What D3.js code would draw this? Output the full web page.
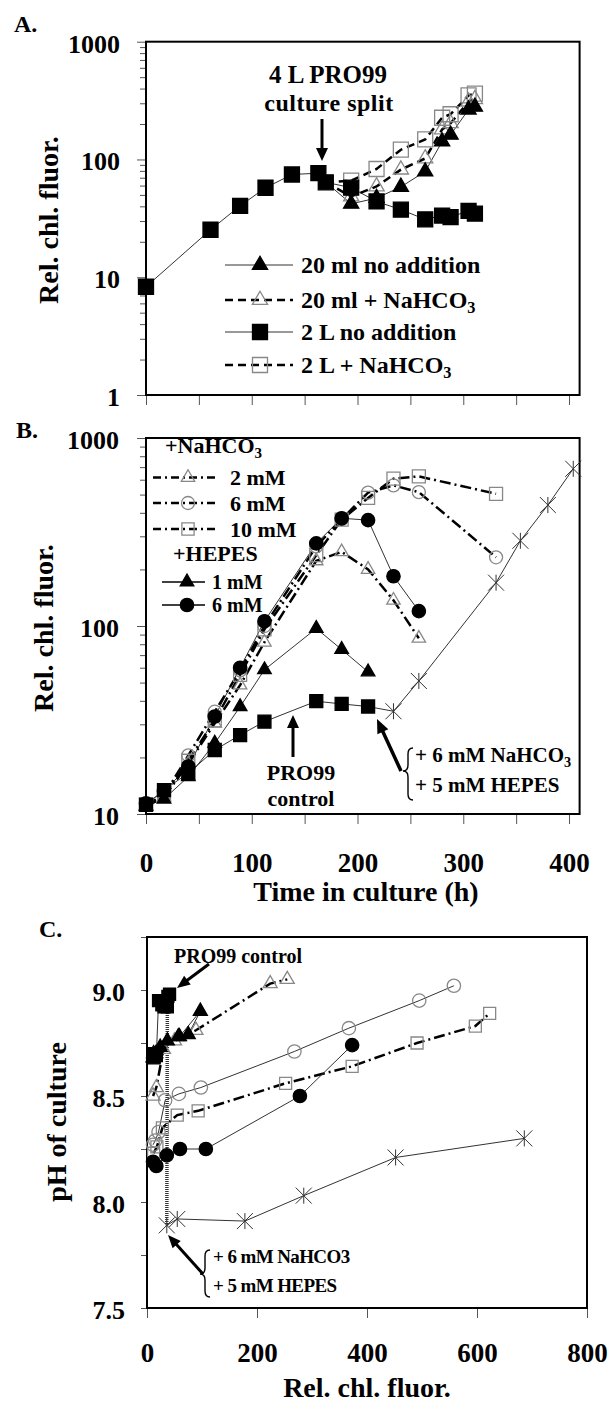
<!DOCTYPE html>
<html><head><meta charset="utf-8">
<script src="https://cdn.jsdelivr.net/npm/d3@7"></script>
<style>body{margin:0;background:#fff}svg{display:block}</style>
</head><body><svg id="c" width="613" height="1404"></svg>
<script>
// ---------- Panel A data ----------
const aPreTime  = [0, 61, 89, 113, 138, 163, 170];
const aPreFluor = [8.3, 25.3, 40.4, 57.5, 74.5, 76.5, 64];
const aPostTime = [194, 218, 241, 264, 280, 288, 305, 311];
const a20mlNoAdd  = [42, 47, 58.5, 79, 142, 162, 265, 280];
const a20mlBicarb = [48.5, 59, 82, 102, 180, 203, 310, 325];
const a2LNoAdd    = [57.6, 44, 37.5, 31, 33.4, 32.4, 36.6, 34.7];
const a2LBicarb   = [66, 83, 121, 148, 226, 242, 350, 362];
const aYTicks = [1, 10, 100, 1000];
const timeTicks = [0, 50, 100, 150, 200, 250, 300, 350, 400];

// ---------- Panel B data ----------
const bTime = [0, 17, 40, 65, 89, 112, 161, 185, 210, 234, 258, 331];
const bControl  = [11.2, 13.4, 16.5, 21.9, 26.3, 31, 39.8, 38.5, 37.3];
const bHepes1   = [11, 12, 15.8, 23.8, 37.2, 58.5, 97, 75, 57];
const bHepes6   = [11.4, 13.2, 17.9, 33, 60, 106, 275, 374, 366, 184, 120];
const bBicarb2  = [11, 12.3, 18.5, 30.4, 48.5, 82, 222, 248, 200, 137, 86];
const bBicarb6  = [11.2, 12.6, 20.5, 35, 58, 100, 265, 370, 512, 560, 515, 232];
const bBicarb10 = [11.2, 12.5, 19.2, 31.5, 55, 96, 238, 368, 480, 608, 625, 505];
const bRescueTime = [234, 258, 331, 354, 380, 404];
const bRescue     = [35.2, 51, 170, 284, 440, 686];
const bYTicks = [10, 100, 1000];
const bXLabels = [0, 100, 200, 300, 400];

// ---------- Panel C data ----------
const cControlFluor = [11, 13, 17, 21, 27, 31, 41, 38, 37];
const cControlPH    = [8.70, 8.68, 8.69, 8.95, 8.93, 8.92, 8.98, 8.97, 8.92];
const cHepes1Fluor  = [11, 12, 16, 24, 37, 59, 97, 75, 57];
const cHepes1PH     = [8.68, 8.70, 8.70, 8.73, 8.76, 8.78, 8.90, 8.79, 8.78];
const cBicarb2Fluor = [11, 17, 30, 50, 89, 224, 255];
const cBicarb2PH    = [8.50, 8.54, 8.72, 8.76, 8.81, 9.03, 9.05];
const cBicarb6Fluor = [11, 15, 21, 33, 58, 98, 268, 367, 495, 558];
const cBicarb6PH    = [8.27, 8.29, 8.33, 8.48, 8.51, 8.54, 8.71, 8.82, 8.95, 9.02];
const cBicarb10Fluor= [12, 18, 28, 55, 93, 252, 373, 491, 597, 623];
const cBicarb10PH   = [8.23, 8.26, 8.35, 8.41, 8.43, 8.56, 8.64, 8.75, 8.83, 8.89];
const cHepes6Fluor  = [11, 17, 36, 60, 107, 278, 373];
const cHepes6PH     = [8.19, 8.17, 8.22, 8.25, 8.25, 8.50, 8.74];
const cRescueFluor  = [36, 55, 178, 285, 452, 686];
const cRescuePH     = [7.89, 7.92, 7.91, 8.03, 8.21, 8.30];
const cXTicks = [0, 200, 400, 600, 800];
const cYTicks = [7.5, 7.75, 8.0, 8.25, 8.5, 8.75, 9.0, 9.25];
const cYLabels = [7.5, 8.0, 8.5, 9.0];

// ---------- helpers ----------
const FONT = '"Liberation Serif","Times New Roman",serif';
const svg = d3.select("#c");
const root = svg.append("g");

function txt(parent, x, y, s, size, anchor, sub) {
  const t = parent.append("text").attr("x", x).attr("y", y).attr("font-size", size)
    .attr("text-anchor", anchor || "start").attr("font-family", FONT).attr("font-weight", "bold").attr("fill", "#000");
  t.append("tspan").text(s);
  if (sub) t.append("tspan").attr("font-size", size * 0.68).attr("dy", size * 0.22).text(sub);
  return t;
}
const THIN = {color: "#333", width: 1};
const DASH = {color: "#000", width: 2.5, dash: "8,5"};
const DOTDASH = {color: "#000", width: 2.5, dash: "11,4,2,4"};
const symbolStar = { draw(ctx, size) { const r = Math.sqrt(size) / 2;
  ctx.moveTo(-r, -r); ctx.lineTo(r, r); ctx.moveTo(-r, r); ctx.lineTo(r, -r);
  ctx.moveTo(0, -r); ctx.lineTo(0, r); } };

function drawLine(g, xs, ys, xS, yS, st) {
  g.append("path").datum(d3.zip(xs, ys))
    .attr("d", d3.line().x(d => xS(d[0])).y(d => yS(d[1])))
    .attr("fill", "none").attr("stroke", st.color).attr("stroke-width", st.width)
    .attr("stroke-dasharray", st.dash || null);
}
function markStyle(sel, m) {
  sel.attr("d", d3.symbol(m.type, m.size))
    .attr("fill", m.star ? "none" : (m.filled ? "#000" : "none"))
    .attr("stroke", m.star ? "#333" : (m.filled ? "#000" : "#888"))
    .attr("stroke-width", m.star ? 1 : 1.3);
}
function drawMarks(g, xs, ys, xS, yS, m) {
  g.selectAll(null).data(d3.zip(xs, ys)).join("path")
    .attr("transform", d => `translate(${xS(d[0])},${yS(d[1])})`)
    .call(markStyle, m);
}
function arrow(g, x1, y1, x2, y2, w, hl, hw) {
  const dx = x2 - x1, dy = y2 - y1, L = Math.hypot(dx, dy), ux = dx / L, uy = dy / L;
  const bx = x2 - ux * hl, by = y2 - uy * hl;
  g.append("line").attr("x1", x1).attr("y1", y1).attr("x2", bx + ux).attr("y2", by + uy)
    .attr("stroke", "#000").attr("stroke-width", w);
  g.append("path").attr("d", `M${x2},${y2}L${bx - uy * hw / 2},${by + ux * hw / 2}L${bx + uy * hw / 2},${by - ux * hw / 2}Z`)
    .attr("fill", "#000");
}
function brace(g, x, y0, y1, ym) {
  g.append("path").attr("d",
    `M${x + 5},${y0} Q${x},${y0} ${x},${y0 + 6} L${x},${ym - 6} Q${x},${ym} ${x - 5},${ym} Q${x},${ym} ${x},${ym + 6} L${x},${y1 - 6} Q${x},${y1} ${x + 5},${y1}`)
    .attr("fill", "none").attr("stroke", "#000").attr("stroke-width", 1.4);
}
function styleAxis(ax, size) {
  ax.select(".domain").remove();
  ax.selectAll(".tick line").attr("stroke", "#555").attr("stroke-width", 1);
  ax.selectAll("text").attr("font-family", FONT).attr("font-weight", "bold")
    .attr("font-size", size).attr("fill", "#000");
}
function box(g, x0, x1, y0, y1) {
  g.append("rect").attr("x", x0).attr("y", y0).attr("width", x1 - x0).attr("height", y1 - y0)
    .attr("fill", "none").attr("stroke", "#000").attr("stroke-width", 2);
}
function logMinors(lo, hi) { const out = []; for (let p = lo; p < hi; p *= 10) for (let k = 2; k <= 9; k++) out.push(k * p); return out; }

const TRI = s => ({type: d3.symbolTriangle, size: s, filled: true});
const OTRI = s => ({type: d3.symbolTriangle, size: s, filled: false});
const SQ = s => ({type: d3.symbolSquare, size: s, filled: true});
const OSQ = s => ({type: d3.symbolSquare, size: s, filled: false});
const CIR = s => ({type: d3.symbolCircle, size: s, filled: true});
const OCIR = s => ({type: d3.symbolCircle, size: s, filled: false});
const STAR = s => ({type: symbolStar, size: s, star: true});

// ================= Panel A =================
const xA = d3.scaleLinear().domain([0, 410]).range([146, 579.6]);
const yA = d3.scaleLog().domain([1, 1000]).range([395, 41.7]);
const gA = root.append("g");
styleAxis(gA.append("g").attr("transform", "translate(146,0)")
  .call(d3.axisLeft(yA).tickValues(logMinors(1, 1000)).tickSize(6).tickFormat("")), 26);
styleAxis(gA.append("g").attr("transform", "translate(146,0)")
  .call(d3.axisLeft(yA).tickValues(aYTicks).tickSize(9).tickPadding(17).tickFormat(d3.format("d"))), 26);
gA.selectAll("text").attr("dy", "0.4em");
styleAxis(gA.append("g").attr("transform", "translate(0,395)")
  .call(d3.axisBottom(xA).tickValues(timeTicks).tickSize(10).tickFormat("")), 26);
box(gA, 146, 579.6, 41.7, 395);

const preLastT = aPreTime[aPreTime.length - 1], preLastF = aPreFluor[aPreFluor.length - 1];
const withStart = arr => [preLastF, ...arr];
const postT = [preLastT, ...aPostTime];
drawLine(gA, aPreTime, aPreFluor, xA, yA, THIN);
drawLine(gA, postT, withStart(a2LNoAdd), xA, yA, THIN);
drawLine(gA, postT, withStart(a20mlNoAdd), xA, yA, THIN);
drawLine(gA, postT, withStart(a20mlBicarb), xA, yA, DASH);
drawLine(gA, postT, withStart(a2LBicarb), xA, yA, DASH);
drawMarks(gA, aPostTime, a2LBicarb, xA, yA, OSQ(225));
drawMarks(gA, aPostTime, a20mlBicarb, xA, yA, OTRI(100));
drawMarks(gA, aPreTime, aPreFluor, xA, yA, SQ(225));
drawMarks(gA, aPostTime, a2LNoAdd, xA, yA, SQ(225));
drawMarks(gA, aPostTime, a20mlNoAdd, xA, yA, TRI(100));

// legend A
const legA = [
  {y: 265, st: THIN, m: TRI(100), t: "20 ml no addition", sub: null},
  {y: 300, st: DASH, m: OTRI(100), t: "20 ml + NaHCO", sub: "3"},
  {y: 332, st: THIN, m: SQ(225), t: "2 L no addition", sub: null},
  {y: 365, st: DASH, m: OSQ(225), t: "2 L + NaHCO", sub: "3"}];
legA.forEach(r => {
  gA.append("line").attr("x1", 225).attr("x2", 293).attr("y1", r.y).attr("y2", r.y)
    .attr("stroke", r.st.color).attr("stroke-width", r.st.width).attr("stroke-dasharray", r.st.dash || null);
  gA.append("path").attr("transform", `translate(260,${r.y})`).call(markStyle, r.m);
  txt(gA, 301, r.y + 7.5, r.t, 24, "start", r.sub);
});
txt(gA, 328, 83, "4 L PRO99", 25, "middle");
txt(gA, 329, 111, "culture split", 24, "middle").attr("letter-spacing", 0.5);
arrow(gA, 322, 119, 322, 161, 3, 13, 12);
txt(gA, 14, 32, "A.", 24, "start");
txt(gA, 0, 0, "Rel. chl. fluor.", 28, "middle").attr("transform", "translate(58,220) rotate(-90)");

// ================= Panel B =================
const xB = d3.scaleLinear().domain([0, 410]).range([146, 579.6]);
const yB = d3.scaleLog().domain([10, 1000]).range([814, 438]);
const gB = root.append("g");
styleAxis(gB.append("g").attr("transform", "translate(146,0)")
  .call(d3.axisLeft(yB).tickValues(logMinors(10, 1000)).tickSize(6).tickFormat("")), 26);
const byAx = gB.append("g").attr("transform", "translate(146,0)")
  .call(d3.axisLeft(yB).tickValues(bYTicks).tickSize(9).tickPadding(18).tickFormat(d3.format("d")));
styleAxis(byAx, 26); byAx.selectAll("text").attr("dy", "0.4em");
styleAxis(gB.append("g").attr("transform", "translate(0,814)")
  .call(d3.axisBottom(xB).tickValues(timeTicks).tickSize(10).tickPadding(29)
    .tickFormat(d => bXLabels.includes(d) ? d : "")), 27);
box(gB, 146, 579.6, 438, 814);

const tn = n => bTime.slice(0, n);
const ctrlLastT = bTime[bControl.length - 1], ctrlLastF = bControl[bControl.length - 1];
drawLine(gB, [ctrlLastT, ...bRescueTime], [ctrlLastF, ...bRescue], xB, yB, THIN);
drawLine(gB, tn(bControl.length), bControl, xB, yB, THIN);
drawLine(gB, tn(bHepes1.length), bHepes1, xB, yB, THIN);
drawLine(gB, tn(bHepes6.length), bHepes6, xB, yB, THIN);
drawLine(gB, tn(bBicarb2.length), bBicarb2, xB, yB, DOTDASH);
drawLine(gB, tn(bBicarb6.length), bBicarb6, xB, yB, DOTDASH);
drawLine(gB, tn(bBicarb10.length), bBicarb10, xB, yB, DOTDASH);
drawMarks(gB, tn(bBicarb10.length), bBicarb10, xB, yB, OSQ(169));
drawMarks(gB, tn(bBicarb6.length), bBicarb6, xB, yB, OCIR(133));
drawMarks(gB, tn(bBicarb2.length), bBicarb2, xB, yB, OTRI(78));
drawMarks(gB, bRescueTime, bRescue, xB, yB, STAR(256));
drawMarks(gB, tn(bControl.length), bControl, xB, yB, SQ(169));
drawMarks(gB, tn(bHepes1.length), bHepes1, xB, yB, TRI(80));
drawMarks(gB, tn(bHepes6.length), bHepes6, xB, yB, CIR(140));

// legend B
txt(gB, 165, 453, "+NaHCO", 22, "start", "3");
const legB1 = [{y: 477.5, m: OTRI(78), t: "2 mM"}, {y: 503, m: OCIR(133), t: "6 mM"}, {y: 529, m: OSQ(150), t: "10 mM"}];
legB1.forEach(r => {
  gB.append("line").attr("x1", 153).attr("x2", 218).attr("y1", r.y).attr("y2", r.y)
    .attr("stroke", "#000").attr("stroke-width", 2.5).attr("stroke-dasharray", "8,4,2,4");
  gB.append("path").attr("transform", `translate(188,${r.y})`).call(markStyle, r.m);
  txt(gB, 230, r.y + 7.5, r.t, 22, "start");
});
txt(gB, 173, 561, "+HEPES", 22, "start");
const legB2 = [{y: 582, m: TRI(80), t: "1 mM"}, {y: 605, m: CIR(140), t: "6 mM"}];
legB2.forEach(r => {
  gB.append("line").attr("x1", 162).attr("x2", 205).attr("y1", r.y).attr("y2", r.y)
    .attr("stroke", "#000").attr("stroke-width", 1.5);
  gB.append("path").attr("transform", `translate(187,${r.y})`).call(markStyle, r.m);
  txt(gB, 212, r.y + 7, r.t, 20, "start");
});
txt(gB, 301, 780, "PRO99", 22, "middle");
txt(gB, 301, 806, "control", 22, "middle");
arrow(gB, 293, 757, 293, 715, 3, 13, 12);
arrow(gB, 401, 771, 377, 719, 3.5, 14, 12);
brace(gB, 408, 748, 800, 771);
txt(gB, 415, 762, "+ 6 mM NaHCO", 21, "start", "3");
txt(gB, 415, 792, "+ 5 mM HEPES", 21, "start");
txt(gB, 16, 438, "B.", 24, "start");
txt(gB, 0, 0, "Rel. chl. fluor.", 28, "middle").attr("transform", "translate(53,628) rotate(-90)");
txt(gB, 366, 901, "Time in culture (h)", 28, "middle");

// ================= Panel C =================
const xC = d3.scaleLinear().domain([0, 800]).range([147, 587]);
const yC = d3.scaleLinear().domain([7.5, 9.25]).range([1308, 937]);
const gC = root.append("g");
const cyAx = gC.append("g").attr("transform", "translate(147,0)")
  .call(d3.axisLeft(yC).tickValues(cYTicks).tickSize(6).tickPadding(16)
    .tickFormat(d => cYLabels.includes(d) ? d3.format(".1f")(d) : ""));
styleAxis(cyAx, 26); cyAx.selectAll("text").attr("dy", "0.4em");
styleAxis(gC.append("g").attr("transform", "translate(0,1308)")
  .call(d3.axisBottom(xC).tickValues(cXTicks).tickSize(10).tickPadding(25).tickFormat(d3.format("d"))), 27);
box(gC, 147, 587, 937, 1308);

// vertical addition line (control -> rescue)
gC.append("line")
  .attr("x1", xC(cControlFluor[cControlFluor.length - 1])).attr("y1", yC(cControlPH[cControlPH.length - 1]))
  .attr("x2", xC(cRescueFluor[0])).attr("y2", yC(cRescuePH[0]))
  .attr("stroke", "#333").attr("stroke-width", 3.5).attr("stroke-dasharray", "1,1");
drawLine(gC, cControlFluor, cControlPH, xC, yC, THIN);
drawLine(gC, cRescueFluor, cRescuePH, xC, yC, THIN);
drawLine(gC, cHepes1Fluor, cHepes1PH, xC, yC, THIN);
drawLine(gC, cBicarb2Fluor, cBicarb2PH, xC, yC, DOTDASH);
drawLine(gC, cBicarb6Fluor, cBicarb6PH, xC, yC, THIN);
drawLine(gC, cBicarb10Fluor, cBicarb10PH, xC, yC, DOTDASH);
drawLine(gC, cHepes6Fluor, cHepes6PH, xC, yC, THIN);
drawMarks(gC, cBicarb10Fluor, cBicarb10PH, xC, yC, OSQ(144));
drawMarks(gC, cBicarb6Fluor, cBicarb6PH, xC, yC, OCIR(140));
drawMarks(gC, cBicarb2Fluor, cBicarb2PH, xC, yC, OTRI(85));
drawMarks(gC, cRescueFluor, cRescuePH, xC, yC, STAR(256));
drawMarks(gC, cControlFluor, cControlPH, xC, yC, SQ(144));
drawMarks(gC, cHepes1Fluor, cHepes1PH, xC, yC, TRI(85));
drawMarks(gC, cHepes6Fluor, cHepes6PH, xC, yC, CIR(140));

txt(gC, 238, 963, "PRO99 control", 20, "middle");
arrow(gC, 209, 964, 177, 988, 3, 13, 11);
arrow(gC, 203, 1274, 168, 1235, 3, 13, 11);
brace(gC, 205, 1250, 1297, 1274);
txt(gC, 213, 1263, "+ 6 mM NaHCO3", 19, "start").attr("letter-spacing", -0.6);
txt(gC, 213, 1292, "+ 5 mM HEPES", 19, "start").attr("letter-spacing", -0.6);
txt(gC, 39, 937, "C.", 24, "start");
txt(gC, 0, 0, "pH of culture", 28, "middle").attr("transform", "translate(66,1122) rotate(-90)");
txt(gC, 367, 1397, "Rel. chl. fluor.", 28, "middle");
</script></body></html>
